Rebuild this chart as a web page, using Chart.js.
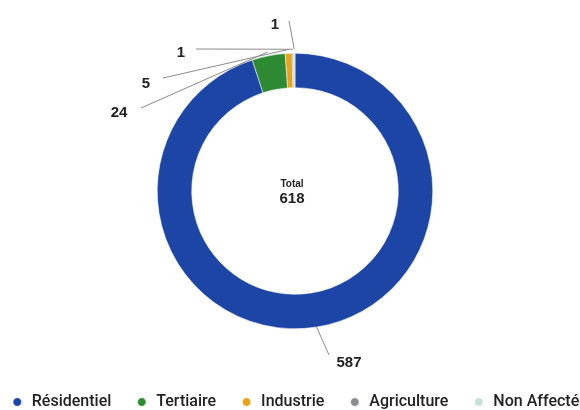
<!DOCTYPE html>
<html>
<head>
<meta charset="utf-8">
<script src="https://cdn.jsdelivr.net/npm/chart.js@4"></script>
<style>
  html, body { margin: 0; padding: 0; background: #fff; overflow: hidden; }
  #wrap { position: relative; width: 580px; height: 410px; overflow: hidden; }
  /* canvas a bit wider than the page so the legend stays on one line, like the cropped original */
  #box { position: absolute; left: -25px; top: 0; width: 640px; height: 420px; }
</style>
</head>
<body>
<div id="wrap"><div id="box"><canvas id="usageChart"></canvas></div></div>
<script>
// donnees du graphique
const categories = ['Résidentiel', 'Tertiaire', 'Industrie', 'Agriculture', 'Non Affecté'];
const values = [587, 24, 5, 1, 1];
const colors = ['#1c45a5', '#2e8a32', '#e9a21c', '#8c8c94', '#c3e3d9'];
const totalLabel = 'Total';

// value label placement, offsets from the donut centre (px)
const labelPos = [[54, 172], [-176, -78], [-149, -107], [-114, -138], [-20, -166]];
// where the leader line stops, relative to its label
const lineEnd = [[-20, -8], [22, -5], [17, -6], [15, -4], [14, -4]];

const total = values.reduce((a, b) => a + b, 0);

const donutLabels = {
  id: 'donutLabels',
  afterDraw(chart) {
    const ctx = chart.ctx;
    const meta = chart.getDatasetMeta(0);
    const cx = meta.data[0].x, cy = meta.data[0].y;

    ctx.save();
    ctx.fillStyle = '#222';
    ctx.textAlign = 'center';
    ctx.textBaseline = 'middle';
    ctx.font = 'bold 10px "Liberation Sans", Arial, sans-serif';
    ctx.fillText(totalLabel, cx - 3, cy - 7);
    ctx.font = 'bold 15px "Liberation Sans", Arial, sans-serif';
    ctx.fillText(String(total), cx - 3, cy + 8);

    meta.data.forEach((arc, i) => {
      const mid = (arc.startAngle + arc.endAngle) / 2;
      const r = arc.outerRadius + (i === 0 ? 0 : 4);
      const sx = cx + Math.cos(mid) * r;
      const sy = cy + Math.sin(mid) * r;
      const lx = cx + labelPos[i][0];
      const ly = cy + labelPos[i][1];
      ctx.strokeStyle = '#8a8a8a';
      ctx.lineWidth = 1;
      ctx.beginPath();
      ctx.moveTo(sx, sy);
      ctx.lineTo(lx + lineEnd[i][0], ly + lineEnd[i][1]);
      ctx.stroke();
      ctx.fillStyle = '#222';
      ctx.font = 'bold 15px "Liberation Sans", Arial, sans-serif';
      ctx.fillText(String(values[i]), lx, ly);
    });
    ctx.restore();
  }
};

const ctx = document.getElementById('usageChart').getContext('2d');
const usageChart = new Chart(ctx, {
  type: 'doughnut',
  data: {
    labels: categories,
    datasets: [{
      data: values,
      backgroundColor: colors,
      borderColor: '#fff',
      borderWidth: 0.5
    }]
  },
  options: {
    responsive: true,
    maintainAspectRatio: false,
    animation: false,
    cutout: '75%',
    layout: { padding: { top: 53, bottom: 0, left: 0, right: 0 } },
    plugins: {
      legend: {
        position: 'bottom',
        // empty title only used as a spacer between the donut and the legend
        title: { display: true, text: '', font: { size: 10, lineHeight: 1 }, padding: { top: 31, bottom: 0 } },
        labels: {
          usePointStyle: true,
          pointStyle: 'circle',
          boxWidth: 13,
          boxHeight: 6,
          padding: 24,
          color: '#222',
          font: { size: 16, weight: '500', family: 'Roboto, "Liberation Sans", Arial, sans-serif' }
        }
      },
      tooltip: { enabled: false }
    }
  },
  plugins: [donutLabels]
});
</script>
</body>
</html>
